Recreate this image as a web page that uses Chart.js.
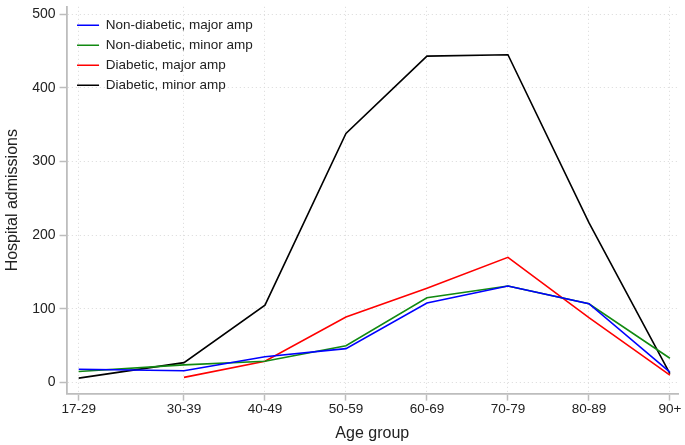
<!DOCTYPE html>
<html>
<head>
<meta charset="utf-8">
<script src="https://cdn.jsdelivr.net/npm/chart.js@4/dist/chart.umd.min.js"></script>
<style>
  html, body { margin: 0; padding: 0; background: #fff; }
  #wrap { width: 685px; height: 445px; }
</style>
</head>
<body>
<div id="wrap"><canvas id="admissions"></canvas></div>
<script>
// age groups and where they sit on the x axis (first group is wider)
const ageGroups = ["17-29", "30-39", "40-49", "50-59", "60-69", "70-79", "80-89", "90+"];
const agePositions = [1.7, 3, 4, 5, 6, 7, 8, 9];
const yTicks = [0, 100, 200, 300, 400, 500];

const nonDiabeticMajor = [18, 16, 35, 46, 108, 131, 107, 14];
const nonDiabeticMinor = [15, 24, 29, 50, 115, 131, 107, 33];
const diabeticMajor = [null, 7, 29, 89, 128, 170, 88, 10];
const diabeticMinor = [6, 27, 105, 338, 443, 445, 217, 12];

const ctx = document.getElementById("admissions");

function toPoints(values) {
  return values.map((v, i) => ({ x: agePositions[i], y: v }));
}

function makeSeries(label, values, color) {
  return {
    label: label,
    data: toPoints(values),
    borderColor: color,
    backgroundColor: color,
    borderWidth: 1.6,
    pointRadius: 0,
    tension: 0,
    spanGaps: false,
  };
}

const axisColor = "#bdbdbd";
const gridColor = "#d9d9d9";
const textColor = "#222";
const fontFamily = "Liberation Sans, Arial, sans-serif";

// nudge the in-plot legend away from the axes
const legendOffset = {
  id: "legendOffset",
  afterLayout(chart) {
    const legend = chart.legend;
    if (legend) {
      legend.left += 4;
      legend.top += 12;
    }
  },
};

new Chart(ctx, {
  type: "line",
  data: {
    datasets: [
      makeSeries("Non-diabetic, major amp", nonDiabeticMajor, "#0000ff"),
      makeSeries("Non-diabetic, minor amp", nonDiabeticMinor, "#128a12"),
      makeSeries("Diabetic, major amp", diabeticMajor, "#ff0000"),
      makeSeries("Diabetic, minor amp", diabeticMinor, "#000000"),
    ],
  },
  plugins: [legendOffset],
  options: {
    responsive: true,
    maintainAspectRatio: false,
    animation: false,
    layout: { padding: { top: 6, right: 7, left: 3, bottom: 2 } },
    plugins: {
      tooltip: { enabled: false },
      legend: {
        position: "chartArea",
        align: "start",
        labels: {
          usePointStyle: true,
          pointStyle: "line",
          pointStyleWidth: 22,
          boxWidth: 22,
          boxHeight: 8,
          padding: 6.5,
          color: textColor,
          font: { family: fontFamily, size: 13.5 },
        },
      },
    },
    scales: {
      x: {
        type: "linear",
        min: 1.55,
        max: 9.1,
        afterBuildTicks: (axis) => {
          axis.ticks = agePositions.map((p) => ({ value: p }));
        },
        ticks: {
          autoSkip: false,
          maxRotation: 0,
          color: textColor,
          padding: 1,
          font: { family: fontFamily, size: 13.5 },
          callback: (value) => {
            const i = agePositions.indexOf(value);
            return i >= 0 ? ageGroups[i] : "";
          },
        },
        grid: {
          color: gridColor,
          tickColor: axisColor,
          tickWidth: 1.5,
          tickLength: 7,
          tickBorderDash: [],
        },
        border: { color: axisColor, width: 1.8, dash: [1, 3] },
        title: {
          display: true,
          text: "Age group",
          color: textColor,
          padding: { top: 5, bottom: 0 },
          font: { family: fontFamily, size: 16 },
        },
      },
      y: {
        min: -15,
        max: 510,
        afterBuildTicks: (axis) => {
          axis.ticks = yTicks.map((v) => ({ value: v }));
        },
        ticks: {
          color: textColor,
          padding: 4,
          font: { family: fontFamily, size: 14, lineHeight: 0.4 },
        },
        grid: {
          color: gridColor,
          tickColor: axisColor,
          tickWidth: 1.5,
          tickLength: 7,
          tickBorderDash: [],
        },
        border: { color: axisColor, width: 1.8, dash: [1, 3] },
        title: {
          display: true,
          text: "Hospital admissions",
          color: textColor,
          padding: { top: 0, bottom: 6 },
          font: { family: fontFamily, size: 16 },
        },
      },
    },
  },
});
</script>
</body>
</html>
